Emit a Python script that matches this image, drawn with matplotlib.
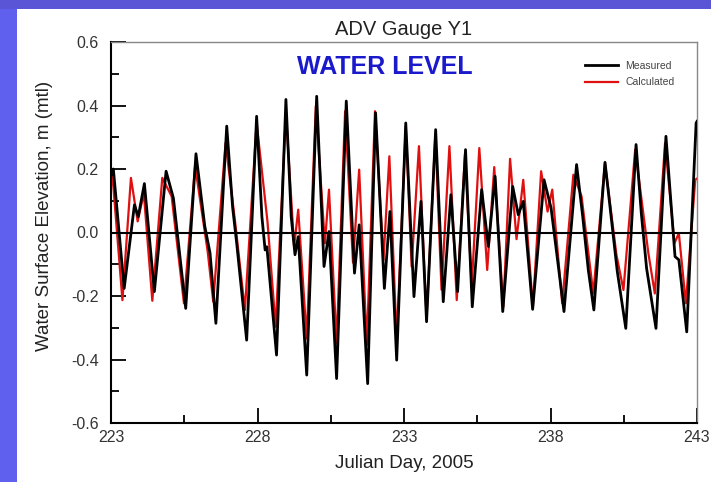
import matplotlib.pyplot as plt
from matplotlib.patches import Rectangle

plt.rcParams['font.family'] = ['Liberation Sans', 'DejaVu Sans']

# DATA (extrema and shoulders of each series)
meas_day = [223.0, 223.08, 223.45, 223.8, 223.93, 224.14, 224.48, 224.88, 225.13, 225.55,
            225.9, 226.2, 226.38, 226.58, 226.95, 227.15, 227.29, 227.63, 227.97, 228.15,
            228.26, 228.32, 228.65, 228.97, 229.15, 229.28, 229.39, 229.68, 230.02, 230.27,
            230.44, 230.7, 231.03, 231.31, 231.47, 231.76, 232.03, 232.33, 232.52, 232.75,
            233.06, 233.34, 233.58, 233.77, 234.08, 234.34, 234.6, 234.83, 235.1, 235.33,
            235.65, 235.88, 236.11, 236.37, 236.71, 236.9, 237.07, 237.39, 237.78, 238.02,
            238.46, 238.89, 239.1, 239.29, 239.48, 239.86, 240.28, 240.57, 240.92, 241.1,
            241.28, 241.6, 241.94, 242.25, 242.38, 242.65, 242.97, 243.0]
meas_wl = [0.18, 0.20, -0.176, 0.087, 0.05, 0.154, -0.186, 0.193, 0.108, -0.239,
           0.248, 0.02, -0.065, -0.286, 0.335, 0.08, -0.034, -0.339, 0.366, 0.05,
           -0.055, -0.045, -0.386, 0.419, 0.05, -0.07, -0.013, -0.449, 0.429, -0.107,
           0.003, -0.46, 0.414, -0.128, 0.024, -0.476, 0.377, -0.176, 0.066, -0.402,
           0.345, -0.202, 0.098, -0.281, 0.324, -0.218, 0.119, -0.186, 0.261, -0.234,
           0.135, -0.044, 0.177, -0.249, 0.145, 0.056, 0.098, -0.242, 0.166, 0.077,
           -0.249, 0.214, 0.05, -0.118, -0.244, 0.221, -0.123, -0.302, 0.277, 0.06,
           -0.113, -0.302, 0.303, -0.076, -0.086, -0.313, 0.345, 0.35]

calc_day = [223.0, 223.05, 223.39, 223.68, 223.91, 224.12, 224.41, 224.75, 225.07, 225.49,
            225.87, 226.3, 226.49, 226.91, 227.24, 227.57, 227.97, 228.34, 228.62, 228.97,
            229.25, 229.39, 229.68, 229.99, 230.3, 230.44, 230.7, 230.99, 231.26, 231.47,
            231.73, 232.01, 232.3, 232.5, 232.75, 233.06, 233.26, 233.51, 233.77, 234.07,
            234.28, 234.55, 234.8, 235.08, 235.31, 235.57, 235.84, 236.08, 236.39, 236.62,
            236.84, 237.07, 237.4, 237.68, 237.9, 238.06, 238.4, 238.78, 239.06, 239.46,
            239.86, 240.25, 240.49, 240.89, 241.34, 241.56, 241.91, 242.23, 242.38, 242.62,
            242.94, 243.0]
calc_wl = [0.15, 0.18, -0.213, 0.172, 0.035, 0.124, -0.215, 0.172, 0.114, -0.223,
           0.21, -0.06, -0.218, 0.282, 0.03, -0.244, 0.345, 0.035, -0.297, 0.377,
           -0.044, 0.072, -0.334, 0.398, -0.034, 0.135, -0.349, 0.382, -0.095, 0.198,
           -0.355, 0.382, -0.086, 0.24, -0.339, 0.335, -0.107, 0.272, -0.27, 0.308,
           -0.18, 0.272, -0.213, 0.245, -0.17, 0.266, -0.118, 0.206, -0.234, 0.232,
           -0.021, 0.166, -0.234, 0.193, 0.066, 0.135, -0.223, 0.182, 0.114, -0.192,
           0.219, -0.07, -0.181, 0.261, -0.065, -0.192, 0.282, -0.034, -0.002, -0.223,
           0.166, 0.17]

x_ticks = [223, 228, 233, 238, 243]
x_minor = [225.5, 230.5, 235.5, 240.5]
y_ticks = [-0.6, -0.4, -0.2, 0.0, 0.2, 0.4, 0.6]
y_minor = [-0.5, -0.3, -0.1, 0.1, 0.3, 0.5]
y_labels = ['-0.6', '-0.4', '-0.2', '0.0', '0.2', '0.4', '0.6']

# FIGURE
fig = plt.figure(figsize=(7.11, 4.82), dpi=100)
fig.patch.set_facecolor('white')

# blue slide frame
fig.patches.append(Rectangle((0, 0), 17/711, 1, transform=fig.transFigure,
                             facecolor='#6060ee', edgecolor='none', zorder=0))
fig.patches.append(Rectangle((0, 1 - 9/482), 1, 9/482, transform=fig.transFigure,
                             facecolor='#5a55d6', edgecolor='none', zorder=0))

ax = fig.add_axes([111/711, 1 - 423/482, 586/711, 381/482])

ax.plot(calc_day, calc_wl, color='#e01010', lw=1.6, label='Calculated', zorder=2,
        solid_joinstyle='round')
ax.plot(meas_day, meas_wl, color='black', lw=2.0, label='Measured', zorder=3,
        solid_joinstyle='round')
ax.axhline(0, color='black', lw=1.5, zorder=4)

ax.set_xlim(223, 243)
ax.set_ylim(-0.6, 0.6)
ax.set_xticks(x_ticks)
ax.set_xticks(x_minor, minor=True)
ax.set_yticks(y_ticks)
ax.set_yticks(y_minor, minor=True)
ax.set_yticklabels(y_labels)
ax.tick_params(which='major', direction='in', length=11, width=1.3, labelsize=11.5,
               colors='black', labelcolor='#333333', top=False, right=False)
ax.tick_params(which='minor', direction='in', length=6, width=1.3, top=False, right=False)
ax.tick_params(axis='x', which='major', pad=5)
ax.tick_params(axis='y', which='major', pad=9)

for s in ['left', 'bottom']:
    ax.spines[s].set_linewidth(1.5)
    ax.spines[s].set_color('black')
for s in ['top', 'right']:
    ax.spines[s].set_linewidth(1.0)
    ax.spines[s].set_color('#888888')

ax.set_xlabel('Julian Day, 2005', fontsize=13.5, color='#222222', labelpad=7)
fig.text(45/711, 1 - 216/482, 'Water Surface Elevation, m (mtl)', rotation=90,
         fontsize=13.5, color='#222222', ha='center', va='center')
ax.set_title('ADV Gauge Y1', fontsize=14.5, color='#222222', pad=5)

ax.text((384.5 - 111)/586, 0.934, 'WATER LEVEL', transform=ax.transAxes, fontsize=18,
        fontweight='bold', color='#1a1acc', ha='center', va='center')

handles, labels = ax.get_legend_handles_labels()
leg = ax.legend(handles[::-1], labels[::-1], loc='upper right', bbox_to_anchor=(0.978, 0.975),
                frameon=False, fontsize=7.5, handlelength=3.2, handletextpad=0.7,
                labelspacing=0.6, labelcolor='#444444')

fig.savefig('out.png', dpi=100, facecolor=fig.get_facecolor())
